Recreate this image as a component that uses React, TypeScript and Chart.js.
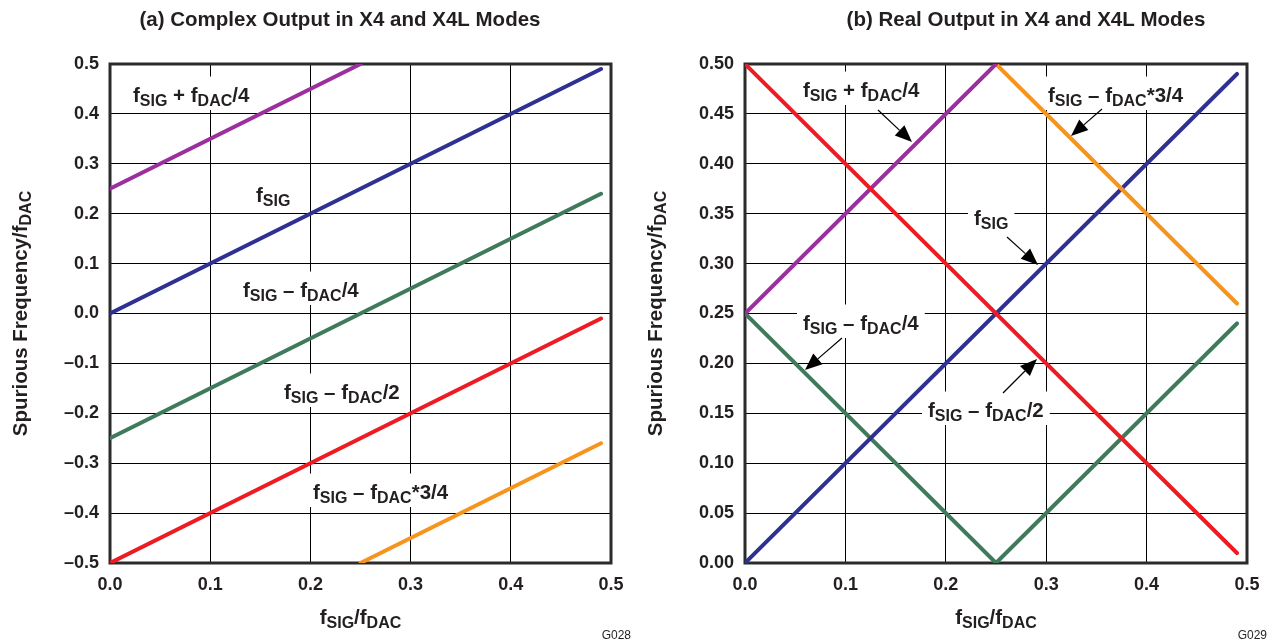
import React, { useEffect, useRef } from 'react';
import { Chart, registerables } from 'chart.js';

Chart.register(...registerables);

const FONT = '"Liberation Sans", Arial, Helvetica, sans-serif';
const INK = '#231f20';

// ---------- data : (a) complex output ----------
const complexXTicks = [0, 0.1, 0.2, 0.3, 0.4, 0.5];
const complexPlusQuarter = [{ x: 0, y: 0.25 }, { x: 0.25, y: 0.5 }];
const complexSig = [{ x: 0, y: 0 }, { x: 0.49, y: 0.49 }];
const complexMinusQuarter = [{ x: 0, y: -0.25 }, { x: 0.49, y: 0.24 }];
const complexMinusHalf = [{ x: 0, y: -0.5 }, { x: 0.49, y: -0.01 }];
const complexMinusThreeQuarter = [{ x: 0.25, y: -0.5 }, { x: 0.49, y: -0.26 }];

// ---------- data : (b) real output ----------
const realMinusHalf = [{ x: 0, y: 0.5 }, { x: 0.49, y: 0.01 }];
const realPlusQuarter = [{ x: 0, y: 0.25 }, { x: 0.25, y: 0.5 }];
const realMinusThreeQuarter = [{ x: 0.25, y: 0.5 }, { x: 0.49, y: 0.26 }];
const realSig = [{ x: 0, y: 0 }, { x: 0.49, y: 0.49 }];
const realMinusQuarter = [{ x: 0, y: 0.25 }, { x: 0.25, y: 0 }, { x: 0.49, y: 0.24 }];

const COLORS = {
  purple: '#9b2f9e',
  blue: '#2e3192',
  green: '#3f7b5b',
  red: '#ed1c24',
  orange: '#f7941d',
};

type Seg = [string, number];
const L_PLUS_Q: Seg[] = [['f', 0], ['SIG', 1], [' + f', 0], ['DAC', 1], ['/4', 0]];
const L_SIG: Seg[] = [['f', 0], ['SIG', 1]];
const L_MINUS_Q: Seg[] = [['f', 0], ['SIG', 1], [' \u2013 f', 0], ['DAC', 1], ['/4', 0]];
const L_MINUS_H: Seg[] = [['f', 0], ['SIG', 1], [' \u2013 f', 0], ['DAC', 1], ['/2', 0]];
const L_MINUS_3Q: Seg[] = [['f', 0], ['SIG', 1], [' \u2013 f', 0], ['DAC', 1], ['*3/4', 0]];
const X_TITLE: Seg[] = [['f', 0], ['SIG', 1], ['/f', 0], ['DAC', 1]];
const Y_TITLE: Seg[] = [['Spurious Frequency/f', 0], ['DAC', 1]];

const MAIN_PX = 20.5;
const SUB_PX = 16;

function drawRich(
  ctx: CanvasRenderingContext2D,
  segs: Seg[],
  x: number,
  y: number,
  main: number,
  sub: number,
  align: 'left' | 'center',
  bg: boolean
) {
  const fm = `bold ${main}px ${FONT}`;
  const fs = `bold ${sub}px ${FONT}`;
  const widths = segs.map(([t, s]) => {
    ctx.font = s ? fs : fm;
    return ctx.measureText(t).width;
  });
  const w = widths.reduce((a, b) => a + b, 0);
  let cx = align === 'center' ? x - w / 2 : x;
  const shift = Math.round(main * 0.2);
  if (bg) {
    ctx.fillStyle = '#ffffff';
    ctx.fillRect(cx - 6, y - main * 1.0 - 5, w + 12, main * 1.0 + shift + 9);
  }
  ctx.fillStyle = INK;
  ctx.textBaseline = 'alphabetic';
  ctx.textAlign = 'left';
  segs.forEach(([t, s], i) => {
    ctx.font = s ? fs : fm;
    ctx.fillText(t, cx, s ? y + shift : y);
    cx += widths[i];
  });
}

function arrow(ctx: CanvasRenderingContext2D, x1: number, y1: number, x2: number, y2: number) {
  const ang = Math.atan2(y2 - y1, x2 - x1);
  const L = 17;
  const W = 7;
  const bx = x2 - L * Math.cos(ang);
  const by = y2 - L * Math.sin(ang);
  ctx.strokeStyle = '#000';
  ctx.lineWidth = 1.2;
  ctx.beginPath();
  ctx.moveTo(x1, y1);
  ctx.lineTo(bx, by);
  ctx.stroke();
  ctx.fillStyle = '#000';
  ctx.beginPath();
  ctx.moveTo(x2, y2);
  ctx.lineTo(bx + W * Math.sin(ang), by - W * Math.cos(ang));
  ctx.lineTo(bx - W * Math.sin(ang), by + W * Math.cos(ang));
  ctx.closePath();
  ctx.fill();
}

type Label = { segs: Seg[]; x: number; y: number; arrow?: [number, number, number, number] };
type PanelDecor = {
  title: string;
  titleX: number;
  yTitleX: number;
  code: string;
  labels: Label[];
};

function decorPlugin(d: PanelDecor) {
  return {
    id: 'decor',
    beforeDatasetsDraw(chart: any) {
      const ctx: CanvasRenderingContext2D = chart.ctx;
      const a = chart.chartArea;
      ctx.save();
      d.labels.forEach((l) => drawRich(ctx, l.segs, l.x, l.y, MAIN_PX, SUB_PX, 'left', true));
      ctx.strokeStyle = '#2b2b2b';
      ctx.lineWidth = 3;
      ctx.strokeRect(a.left, a.top, a.right - a.left, a.bottom - a.top);
      ctx.restore();
    },
    afterDraw(chart: any) {
      const ctx: CanvasRenderingContext2D = chart.ctx;
      const a = chart.chartArea;
      ctx.save();
      d.labels.forEach((l) => {
        if (l.arrow) arrow(ctx, l.arrow[0], l.arrow[1], l.arrow[2], l.arrow[3]);
      });
      // title
      ctx.fillStyle = INK;
      ctx.font = `bold 20.5px ${FONT}`;
      ctx.textAlign = 'center';
      ctx.textBaseline = 'alphabetic';
      ctx.fillText(d.title, d.titleX, 26);
      // x title
      drawRich(ctx, X_TITLE, (a.left + a.right) / 2, 624, MAIN_PX, SUB_PX, 'center', false);
      // y title
      ctx.save();
      ctx.translate(d.yTitleX, (a.top + a.bottom) / 2);
      ctx.rotate(-Math.PI / 2);
      drawRich(ctx, Y_TITLE, 0, 0, MAIN_PX, SUB_PX, 'center', false);
      ctx.restore();
      // figure code
      ctx.fillStyle = INK;
      ctx.font = `12px ${FONT}`;
      ctx.textAlign = 'right';
      ctx.fillText(d.code, chart.width - 5, 639);
      ctx.restore();
    },
  };
}

function fmt(v: number, digits: number) {
  if (Math.abs(v) < 1e-9) return (0).toFixed(digits);
  const s = Math.abs(v).toFixed(digits);
  return v < 0 ? '\u2013' + s : s;
}

function makeConfig(
  datasets: { data: { x: number; y: number }[]; color: string }[],
  yMin: number,
  yMax: number,
  yStep: number,
  yDigits: number,
  yWidth: number,
  decor: PanelDecor
): any {
  const tickFont = { family: FONT, size: 18, weight: 'bold' as const };
  return {
    type: 'line',
    data: {
      datasets: datasets.map((d) => ({
        data: d.data,
        borderColor: d.color,
        backgroundColor: d.color,
        borderWidth: 4,
        pointRadius: 0,
        tension: 0,
        borderJoinStyle: 'miter',
        borderCapStyle: 'round',
        fill: false,
      })),
    },
    options: {
      animation: false,
      responsive: false,
      maintainAspectRatio: false,
      devicePixelRatio: 1,
      events: [],
      layout: { padding: { left: 0, top: 64, right: 25, bottom: 0 } },
      plugins: { legend: { display: false }, tooltip: { enabled: false }, title: { display: false } },
      scales: {
        x: {
          type: 'linear',
          min: complexXTicks[0],
          max: complexXTicks[complexXTicks.length - 1],
          afterFit: (s: any) => {
            s.height = 79;
          },
          afterBuildTicks: (s: any) => {
            s.ticks = complexXTicks.map((v) => ({ value: v }));
          },
          ticks: {
            color: INK,
            font: tickFont,
            padding: 11,
            maxRotation: 0,
            autoSkip: false,
            callback: (v: number) => fmt(v, 1),
          },
          grid: { color: '#000', lineWidth: 1, drawTicks: false },
          border: { display: false },
        },
        y: {
          type: 'linear',
          min: yMin,
          max: yMax,
          afterFit: (s: any) => {
            s.width = yWidth;
          },
          ticks: {
            stepSize: yStep,
            color: INK,
            font: tickFont,
            padding: 11,
            autoSkip: false,
            callback: (v: number) => fmt(v, yDigits),
          },
          grid: { color: '#000', lineWidth: 1, drawTicks: false },
          border: { display: false },
        },
      },
    },
    plugins: [decorPlugin(decor)],
  };
}

function Panel({ left, config }: { left: number; config: () => any }) {
  const ref = useRef<HTMLCanvasElement>(null);
  useEffect(() => {
    const chart = new Chart(ref.current as HTMLCanvasElement, config());
    return () => chart.destroy();
  }, []);
  return (
    <div style={{ position: 'absolute', left, top: 0, width: 636, height: 642 }}>
      <canvas ref={ref} width={636} height={642} style={{ width: 636, height: 642, display: 'block' }} />
    </div>
  );
}

const configA = () =>
  makeConfig(
    [
      { data: complexPlusQuarter, color: COLORS.purple },
      { data: complexSig, color: COLORS.blue },
      { data: complexMinusQuarter, color: COLORS.green },
      { data: complexMinusHalf, color: COLORS.red },
      { data: complexMinusThreeQuarter, color: COLORS.orange },
    ],
    -0.5,
    0.5,
    0.1,
    1,
    110,
    {
      title: '(a) Complex Output in X4 and X4L Modes',
      titleX: 340,
      yTitleX: 27,
      code: 'G028',
      labels: [
        { segs: L_PLUS_Q, x: 133, y: 102 },
        { segs: L_SIG, x: 256, y: 202 },
        { segs: L_MINUS_Q, x: 243, y: 297 },
        { segs: L_MINUS_H, x: 284, y: 399 },
        { segs: L_MINUS_3Q, x: 313, y: 499 },
      ],
    }
  );

const configB = () =>
  makeConfig(
    [
      { data: realMinusHalf, color: COLORS.red },
      { data: realPlusQuarter, color: COLORS.purple },
      { data: realMinusThreeQuarter, color: COLORS.orange },
      { data: realSig, color: COLORS.blue },
      { data: realMinusQuarter, color: COLORS.green },
    ],
    0,
    0.5,
    0.05,
    2,
    109,
    {
      title: '(b) Real Output in X4 and X4L Modes',
      titleX: 390,
      yTitleX: 26,
      code: 'G029',
      labels: [
        { segs: L_PLUS_Q, x: 803 - 636, y: 97, arrow: [242, 110, 276, 142] },
        { segs: L_MINUS_3Q, x: 1048 - 636, y: 102, arrow: [466, 109, 435, 136] },
        { segs: L_SIG, x: 974 - 636, y: 225, arrow: [371, 237, 402, 265] },
        { segs: L_MINUS_Q, x: 803 - 636, y: 330, arrow: [206, 338, 169, 370] },
        { segs: L_MINUS_H, x: 928 - 636, y: 417, arrow: [367, 393, 401, 359] },
      ],
    }
  );

export default function App() {
  return (
    <div style={{ position: 'absolute', left: 0, top: 0, width: 1272, height: 642, background: '#fff' }}>
      <Panel left={0} config={configA} />
      <Panel left={636} config={configB} />
    </div>
  );
}
